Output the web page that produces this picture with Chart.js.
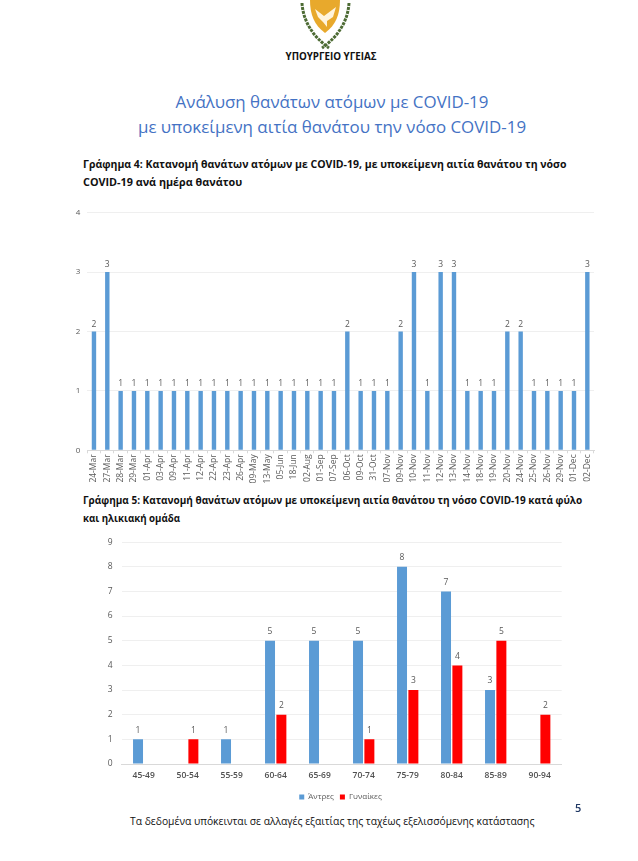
<!DOCTYPE html>
<html><head><meta charset="utf-8">
<script src="https://cdn.jsdelivr.net/npm/chart.js@4"></script>
<style>
html,body{margin:0;padding:0;background:#fff;width:638px;height:861px;overflow:hidden}
body{position:relative;font-family:"Open Sans","Noto Sans",sans-serif}
.t{position:absolute;white-space:nowrap}
.c{left:0;width:664px;text-align:center}
.h{left:83px;font-weight:700;color:#111;line-height:18px}
canvas{position:absolute}
#w1,#w2{position:absolute}
</style></head><body>
<svg style="position:absolute;left:296px;top:0" width="70" height="50" viewBox="0 0 70 50">
<path d="M14 0 H44 C44 14 40 25 29 33 C18 25 14 14 14 0Z" fill="#e8a92c"/>
<path d="M19 9 L28 16 L40 7 L37 17 L31 21 L31 27 L27 22 L22 17Z" fill="#fff4dc"/>
<path d="M6 3 C7 20 16 36 33 48" fill="none" stroke="#4d6b34" stroke-width="3" stroke-dasharray="3 1"/>
<path d="M53 3 C52 20 43 36 26 48" fill="none" stroke="#4d6b34" stroke-width="3" stroke-dasharray="3 1"/>
</svg>
<div class="t c" style="top:50px;font-size:9.8px;font-weight:700;color:#111;width:662px">ΥΠΟΥΡΓΕΙΟ ΥΓΕΙΑΣ</div>
<div class="t c" style="top:90px;font-size:16.9px;color:#4472c4">Ανάλυση θανάτων ατόμων με COVID-19</div>
<div class="t c" style="top:115px;font-size:16.9px;color:#4472c4">με υποκείμενη αιτία θανάτου την νόσο COVID-19</div>
<div class="t h" style="top:155px;font-size:10.5px">Γράφημα 4: Κατανομή θανάτων ατόμων με COVID-19, με υποκείμενη αιτία θανάτου τη νόσο<br><span style="font-size:10.8px">COVID-19 ανά ημέρα θανάτου</span></div>
<div class="t h" style="top:491px;font-size:10px">Γράφημα 5: Κατανομή θανάτων ατόμων με υποκείμενη αιτία θανάτου τη νόσο COVID-19 κατά φύλο<br><span style="font-size:9.7px">και ηλικιακή ομάδα</span></div>
<div id="w1" style="left:60px;top:200px;width:540px;height:290px"><canvas id="c1"></canvas></div>
<div id="w2" style="left:81px;top:528px;width:519px;height:283px"><canvas id="c2"></canvas></div>
<div class="t" style="left:130px;top:814px;font-size:10.3px;color:#111">Τα δεδομένα υπόκεινται σε αλλαγές εξαιτίας της ταχέως εξελισσόμενης κατάστασης</div>
<div class="t" style="left:575px;top:800px;font-size:11px;font-weight:600;color:#1f3864">5</div>
<script>
const dayLabels=["24-Mar","27-Mar","28-Mar","29-Mar","01-Apr","03-Apr","09-Apr","11-Apr","12-Apr","22-Apr","23-Apr","26-Apr","09-May","13-May","05-Jun","18-Jun","02-Aug","01-Sep","07-Sep","06-Oct","09-Oct","31-Oct","07-Nov","09-Nov","10-Nov","11-Nov","12-Nov","13-Nov","14-Nov","18-Nov","19-Nov","20-Nov","24-Nov","25-Nov","26-Nov","29-Nov","01-Dec","02-Dec"];
const dayDeaths=[2,3,1,1,1,1,1,1,1,1,1,1,1,1,1,1,1,1,1,2,1,1,1,2,3,1,3,3,1,1,1,2,2,1,1,1,1,3];
const ageGroups=["45-49","50-54","55-59","60-64","65-69","70-74","75-79","80-84","85-89","90-94"];
const men=[1,null,1,5,5,5,8,7,3,null];
const women=[null,1,null,2,null,1,3,4,5,2];
const BLUE="#5b9bd5",RED="#ff0000",TXT="#595959",GRID="#efefef",AXIS="#d9d9d9";
const FONT='"Open Sans","Noto Sans",sans-serif';
const valueLabels={id:"valueLabels",afterDatasetsDraw(ch,a,o){
  const x=ch.ctx;x.save();x.font=o.size+"px "+FONT;x.fillStyle=TXT;x.textAlign="center";x.textBaseline="bottom";
  ch.data.datasets.forEach((d,i)=>{ch.getDatasetMeta(i).data.forEach((el,j)=>{
    if(d.data[j]!=null)x.fillText(d.data[j],el.x,el.y-o.gap);});});
  x.restore();}};
function fix(w){return s=>{s.width=w;};}
function fixH(h){return s=>{s.height=h;};}
new Chart(document.getElementById("c1"),{type:"bar",plugins:[valueLabels],
 data:{labels:dayLabels,datasets:[{data:dayDeaths,backgroundColor:BLUE,categoryPercentage:1,barPercentage:0.33}]},
 options:{responsive:true,maintainAspectRatio:false,animation:false,
  layout:{padding:{top:12.7,right:6,bottom:0,left:0}},
  plugins:{legend:{display:false},tooltip:{enabled:false},valueLabels:{size:8.5,gap:3}},
  scales:{
   x:{grid:{drawOnChartArea:false,color:AXIS,tickLength:3},border:{color:AXIS},
      afterFit:fixH(39.7),
      ticks:{autoSkip:false,minRotation:90,maxRotation:90,font:{size:8.5,family:FONT},color:TXT,padding:1}},
   y:{min:0,max:4,afterFit:fix(27.3),grid:{color:GRID,drawTicks:false},border:{display:false},
      ticks:{stepSize:1,font:{size:8,family:FONT},color:TXT,padding:7}}
  }}});
new Chart(document.getElementById("c2"),{type:"bar",plugins:[valueLabels],
 data:{labels:ageGroups,datasets:[
  {label:"Άντρες",data:men,backgroundColor:BLUE,categoryPercentage:0.516,barPercentage:0.88},
  {label:"Γυναίκες",data:women,backgroundColor:RED,categoryPercentage:0.516,barPercentage:0.88}]},
 options:{responsive:true,maintainAspectRatio:false,animation:false,
  layout:{padding:{top:11,right:0,bottom:0,left:0}},
  plugins:{tooltip:{enabled:false},valueLabels:{size:8.5,gap:5},
   legend:{position:"bottom",labels:{boxWidth:5,boxHeight:5,padding:6,color:TXT,font:{size:8,family:FONT}}}},
  scales:{
   x:{grid:{display:false,drawTicks:false},border:{color:AXIS},afterFit:fixH(23),
      ticks:{font:{size:8.5,family:FONT,weight:"600"},color:"#505050",padding:6}},
   y:{min:0,max:9,afterFit:fix(40.7),grid:{color:GRID,drawTicks:false},border:{display:false},
      ticks:{stepSize:1,font:{size:8.5,family:FONT},color:TXT,padding:9}},
   yRight:{position:"right",afterFit:fix(38.3),grid:{display:false},border:{display:false},ticks:{display:false}}
  }}});
</script>
</body></html>
